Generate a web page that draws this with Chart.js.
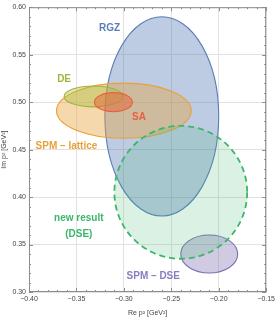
<!DOCTYPE html>
<html>
<head>
<meta charset="utf-8">
<script src="https://cdn.jsdelivr.net/npm/chart.js@4"></script>
<style>
  body { margin: 0; background: #fff; }
  #wrap { width: 278px; height: 317px; }
</style>
</head>
<body>
<div id="wrap"><canvas id="myChart"></canvas></div>
<script>
// regions: name, centre (Re, Im) and half widths
const names   = ['RGZ', 'SPM \u2013 lattice', 'DE', 'SA', 'SPM \u2013 DSE', 'new result (DSE)'];
const centreX = [-0.260, -0.300, -0.332, -0.311, -0.210, -0.240];
const centreY = [ 0.485,  0.491,  0.506,  0.500,  0.340,  0.405];
const halfX   = [ 0.060,  0.071,  0.031,  0.020,  0.030,  0.070];
const halfY   = [ 0.105,  0.029,  0.011,  0.010,  0.020,  0.070];
const lineCol = ['#5b7db8', '#e8a13a', '#9ab83c', '#e8613c', '#7d6fb0', '#3cb66a'];
const fillCol = ['rgba(91,125,184,0.40)', 'rgba(232,161,58,0.42)', 'rgba(170,190,60,0.40)',
                 'rgba(232,97,60,0.50)', 'rgba(125,111,176,0.36)', 'rgba(60,182,106,0.19)'];
const dashed  = [false, false, false, false, false, true];

// text labels placed in data coordinates
const labelText = ['RGZ', 'DE', 'SA', 'SPM \u2013 lattice', 'new result', '(DSE)', 'SPM \u2013 DSE'];
const labelX    = [-0.315, -0.363, -0.284, -0.3605, -0.3475, -0.3475, -0.269];
const labelY    = [ 0.578,  0.524,  0.484,  0.454,   0.378,   0.361,   0.3165];
const labelCol  = ['#5b7db8', '#9ab83c', '#e8613c', '#e8a13a', '#3cb66a', '#3cb66a', '#8a7cc0'];

const xMin = -0.40, xMax = -0.15, yMin = 0.30, yMax = 0.60;

function isMajor(v) {
    return Math.abs(Math.round(v * 100)) % 5 === 0;
}

const ellipses = {
    id: 'ellipses',
    beforeDatasetsDraw(chart) {
        const c = chart.ctx, xs = chart.scales.x, ys = chart.scales.y;
        const a = chart.chartArea;
        c.save();
        c.beginPath();
        c.rect(a.left, a.top, a.right - a.left, a.bottom - a.top);
        c.clip();
        chart.data.datasets.forEach(function (ds) {
            const p = ds.data[0];
            const px = xs.getPixelForValue(p.x), py = ys.getPixelForValue(p.y);
            const rx = Math.abs(xs.getPixelForValue(p.x + ds.rx) - px);
            const ry = Math.abs(ys.getPixelForValue(p.y + ds.ry) - py);
            c.beginPath();
            c.ellipse(px, py, rx, ry, 0, 0, Math.PI * 2);
            c.fillStyle = ds.backgroundColor;
            c.fill();
            c.lineWidth = ds.dashed ? 1.8 : 1.1;
            c.setLineDash(ds.dashed ? [6, 4] : []);
            c.strokeStyle = ds.borderColor;
            c.stroke();
        });
        c.setLineDash([]);
        c.textAlign = 'center';
        c.textBaseline = 'middle';
        c.font = 'bold 10px "Liberation Sans", Arial, sans-serif';
        labelText.forEach(function (t, i) {
            c.fillStyle = labelCol[i];
            c.fillText(t, xs.getPixelForValue(labelX[i]), ys.getPixelForValue(labelY[i]));
        });
        c.restore();

        // frame with inside ticks
        c.save();
        c.strokeStyle = '#8c8c8c';
        c.lineWidth = 1;
        c.strokeRect(a.left + 0.5, a.top + 0.5, a.right - a.left - 1, a.bottom - a.top - 1);
        c.beginPath();
        xs.ticks.forEach(function (t) {
            const x = Math.round(xs.getPixelForValue(t.value)) + 0.5;
            const len = isMajor(t.value) ? 4 : 2;
            c.moveTo(x, a.bottom); c.lineTo(x, a.bottom - len);
            c.moveTo(x, a.top); c.lineTo(x, a.top + len);
        });
        ys.ticks.forEach(function (t) {
            const y = Math.round(ys.getPixelForValue(t.value)) + 0.5;
            const len = isMajor(t.value) ? 4 : 2;
            c.moveTo(a.left, y); c.lineTo(a.left + len, y);
            c.moveTo(a.right, y); c.lineTo(a.right - len, y);
        });
        c.stroke();
        c.restore();
    }
};

const datasets = names.map(function (n, i) {
    return {
        label: n,
        data: [{ x: centreX[i], y: centreY[i] }],
        rx: halfX[i],
        ry: halfY[i],
        dashed: dashed[i],
        borderColor: lineCol[i],
        backgroundColor: fillCol[i],
        pointRadius: 0,
        pointHoverRadius: 0
    };
});

function tickLabel(v) {
    if (!isMajor(v)) return '';
    return v.toFixed(2).replace('-', '\u2212');
}

const ctx = document.getElementById('myChart').getContext('2d');
const myChart = new Chart(ctx, {
    type: 'scatter',
    data: { datasets: datasets },
    options: {
        responsive: true,
        maintainAspectRatio: false,
        animation: false,
        events: [],
        layout: { padding: { top: 5, right: 10, left: 0, bottom: 0 } },
        plugins: {
            legend: { display: false },
            tooltip: { enabled: false }
        },
        scales: {
            x: {
                type: 'linear',
                min: xMin,
                max: xMax,
                afterFit: function (s) { s.height = 25; },
                border: { display: false },
                grid: {
                    drawTicks: false,
                    color: function (c) { return isMajor(c.tick.value) ? '#e2e2e2' : 'rgba(0,0,0,0)'; }
                },
                ticks: {
                    stepSize: 0.01,
                    autoSkip: false,
                    maxRotation: 0,
                    padding: 3,
                    color: '#444',
                    font: { family: '"Liberation Sans", Arial, sans-serif', size: 7 },
                    callback: tickLabel
                },
                title: {
                    display: true,
                    text: 'Re p\u00b2 [GeV\u00b2]',
                    color: '#444',
                    padding: { top: 1, bottom: 0 },
                    font: { family: '"Liberation Sans", Arial, sans-serif', size: 7 }
                }
            },
            y: {
                type: 'linear',
                min: yMin,
                max: yMax,
                afterFit: function (s) { s.width = 29; },
                border: { display: false },
                grid: {
                    drawTicks: false,
                    color: function (c) { return isMajor(c.tick.value) ? '#e2e2e2' : 'rgba(0,0,0,0)'; }
                },
                ticks: {
                    stepSize: 0.01,
                    autoSkip: false,
                    padding: 3,
                    color: '#444',
                    font: { family: '"Liberation Sans", Arial, sans-serif', size: 7 },
                    callback: tickLabel
                },
                title: {
                    display: true,
                    text: 'Im p\u00b2 [GeV\u00b2]',
                    color: '#444',
                    padding: { top: 0, bottom: 0 },
                    font: { family: '"Liberation Sans", Arial, sans-serif', size: 7 }
                }
            }
        }
    },
    plugins: [ellipses]
});
</script>
</body>
</html>
